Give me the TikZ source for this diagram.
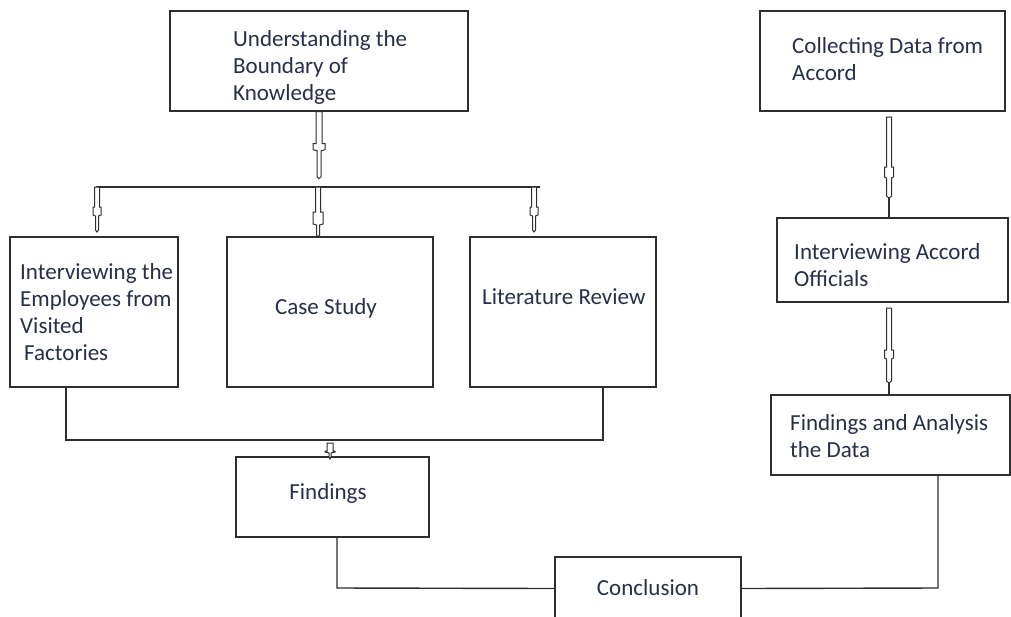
\documentclass[tikz,border=0pt]{standalone}
\usepackage{fontspec}
\setmainfont{Carlito}
\usetikzlibrary{calc}
\definecolor{ink}{HTML}{26304A}
\definecolor{edge}{HTML}{2E2E2E}
% hollow block arrow: #1 start coordinate, #2 shaft half width, #3 shaft length,
% #4 bulge half width, #5 bulge length, #6 tail half width, #7 total length
\newcommand\harrow[7]{%
  \draw[harrowstyle] let \p1=(#1) in
    (\x1-#2pt,\y1) -- (\x1-#2pt,\y1-#3pt) -- (\x1-#4pt,\y1-#3pt)
    -- (\x1-#4pt,\y1-#3pt-#5pt) -- (\x1-#6pt,\y1-#3pt-#5pt-1pt)
    -- (\x1-#6pt,\y1-#7pt+2pt) -- (\x1,\y1-#7pt)
    -- (\x1+#6pt,\y1-#7pt+2pt) -- (\x1+#6pt,\y1-#3pt-#5pt-1pt)
    -- (\x1+#4pt,\y1-#3pt-#5pt) -- (\x1+#4pt,\y1-#3pt)
    -- (\x1+#2pt,\y1-#3pt) -- (\x1+#2pt,\y1) -- cycle;}
\begin{document}
\begin{tikzpicture}[x=1pt,y=-1pt,
  box/.style={draw=edge,line width=1.4pt,inner sep=0pt},
  txt/.style={text=ink,font=\fontsize{23}{27}\selectfont,inner sep=0pt,align=left},
  conn/.style={draw=edge,line width=1.4pt},
  harrowstyle/.style={draw=edge,line width=1pt,fill=white,line join=miter}]
\clip (0,0) rectangle (1011,616);
\fill[white] (0,0) rectangle (1011,616);

% boxes
\node[box,minimum width=298,minimum height=100] (b1) at (319,61) {};
\node[box,minimum width=245,minimum height=100] (b2) at (882.5,61) {};
\node[box,minimum width=168,minimum height=150] (b3) at (94,312) {};
\node[box,minimum width=206,minimum height=150] (b4) at (330,312) {};
\node[box,minimum width=186,minimum height=150] (b5) at (563,312) {};
\node[box,minimum width=231,minimum height=84] (b6) at (892.5,260) {};
\node[box,minimum width=239,minimum height=80] (b7) at (890.5,435) {};
\node[box,minimum width=193,minimum height=80] (b8) at (332.5,497) {};
\node[box,minimum width=186,minimum height=63] (b9) at (648,588.5) {};

% texts (anchored at the baseline of their last line)
\node[txt,anchor=base west] (t1) at (233,100) {Understanding the\\Boundary of\\Knowledge};
\node[txt,anchor=base west] (t2) at (792,80) {Collecting Data from\\Accord};
\node[txt,anchor=base west] (t3) at (20,360) {Interviewing the\\Employees from\\Visited\\\hspace*{4pt}Factories};
\node[txt,anchor=base] (t4) at (326,314) {Case Study};
\node[txt,anchor=base west] (t5) at (482,304) {Literature Review};
\node[txt,anchor=base west] (t6) at (794,286) {Interviewing Accord\\Officials};
\node[txt,anchor=base west] (t7) at (790,457) {Findings and Analysis\\the Data};
\node[txt,anchor=base] (t8) at (328,499) {Findings};
\node[txt,anchor=base] (t9) at (648,595) {Conclusion};

% junction coordinates
\coordinate (busL) at (96,187);
\coordinate (busR) at (540,187);
\coordinate (j3) at (97,187);
\coordinate (j4) at (318,187);
\coordinate (j5) at (534,187);
\coordinate (m1) at (66,440);
\coordinate (m2) at (603,440);
\coordinate (m3) at (330,443);
\coordinate (f1) at (337,588);
\coordinate (f2) at (938,588);
\coordinate (r1) at (889,117);
\coordinate (r1e) at (889,197);
\coordinate (r2) at (889,308);
\coordinate (r2e) at (889,382);

% left top: knowledge -> bus
\harrow{b1.south}{3}{32}{6}{6}{2}{67}
\draw[conn] (busL) -- (busR);
\harrow{j3}{2.5}{20}{4}{8}{1.5}{45}
\harrow{j4}{2.5}{25}{5}{12}{1.5}{50}
\harrow{j5}{2.5}{20}{4}{8}{1.5}{45}

% merge to findings
\draw[conn] (m1 |- b3.south) -- (m1) -- (m2) -- (m2 |- b5.south);
\harrow{m3}{3}{8}{5}{1}{1}{16}

% findings and analysis to conclusion
\draw[conn] (f1 |- b8.south) -- (f1) -- (b9.west);
\draw[conn] (f2 |- b7.south) -- (f2) -- (b9.east);

% right column
\draw[edge,line width=2pt] (r1e) -- (r1e |- b6.north);
\harrow{r1}{2.5}{50}{4.5}{10}{2.5}{81}
\draw[edge,line width=2pt] (r2e) -- (r2e |- b7.north);
\harrow{r2}{2.5}{42}{4.5}{8}{2.5}{75}
\end{tikzpicture}
\end{document}
